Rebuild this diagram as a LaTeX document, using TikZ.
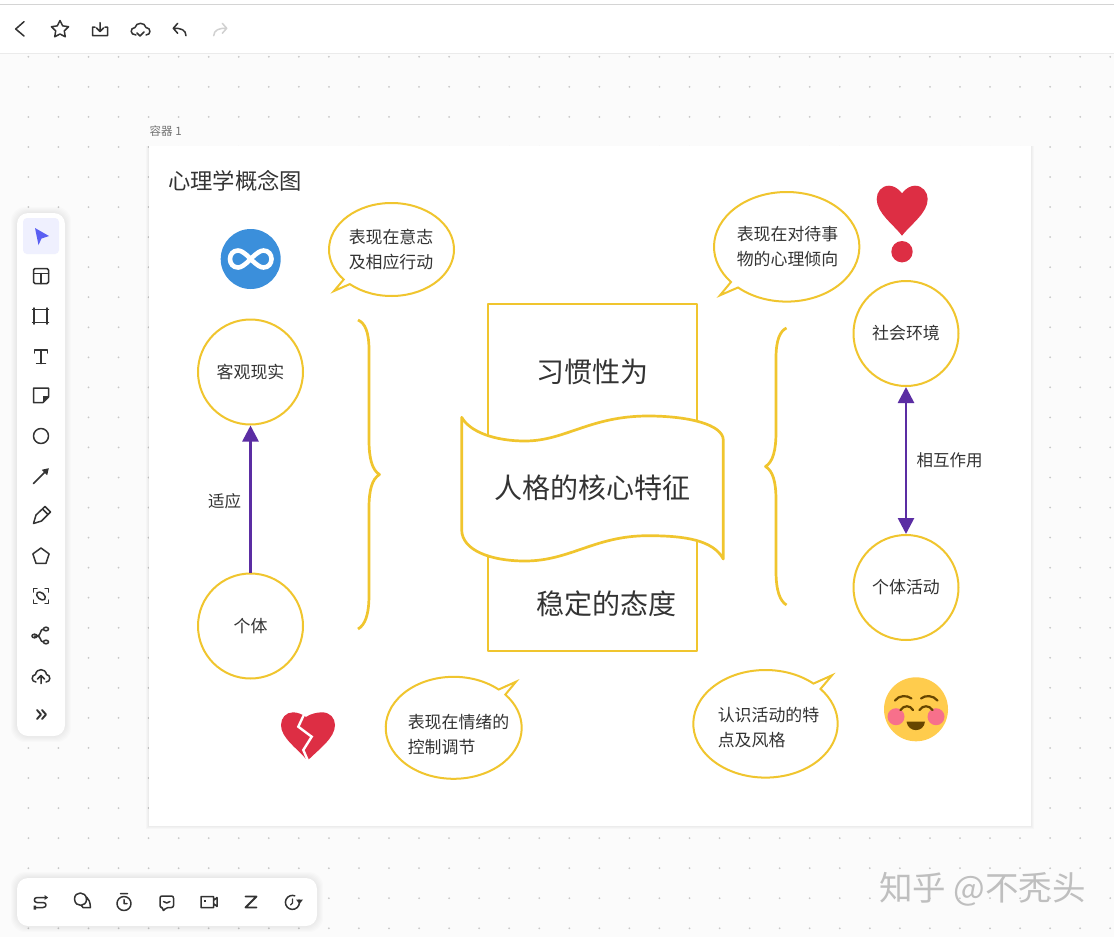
\documentclass[tikz,border=0pt]{standalone}
\usepackage{fontspec}
\setmainfont{Noto Sans CJK SC}
\usetikzlibrary{arrows.meta,shapes.geometric,shapes.callouts}
\definecolor{canvasbg}{HTML}{FBFBFB}
\definecolor{griddot}{HTML}{C8C8C8}
\definecolor{ink}{HTML}{333333}
\definecolor{gold}{HTML}{F0C52E}
\definecolor{violet}{HTML}{5B2DA3}
\definecolor{rubyred}{HTML}{DD2E44}
\definecolor{badgeblue}{HTML}{3B8FDB}
\definecolor{faceyellow}{HTML}{FFCC4D}
\definecolor{facepink}{HTML}{F7708B}
\definecolor{facebrown}{HTML}{664500}
\definecolor{pickblue}{HTML}{5A5FF2}
\definecolor{pickbg}{HTML}{EFF0FE}
\tikzset{
  conceptcircle/.style={circle,draw=gold,line width=2pt,fill=white,minimum size=105pt,inner sep=0pt,text=ink,font=\fontsize{16.9}{20}\selectfont},
  bubble/.style={ellipse callout,draw=gold,line width=2pt,fill=white,inner sep=0pt,callout pointer arc=8},
  bubbletext/.style={align=left,text=ink,font=\fontsize{16.9}{25}\selectfont},
  bigtext/.style={text=ink,font=\fontsize{28}{30}\selectfont},
  label/.style={text=ink,font=\fontsize{16.5}{20}\selectfont},
  linkarrow/.style={draw=violet,line width=2.7pt,-{Triangle[length=16pt,width=16pt]}},
  goldline/.style={draw=gold,line width=2.7pt,line join=round},
  icon/.style={draw=ink,line width=1.5pt,line cap=round,line join=round},
  panel/.style={fill=white,rounded corners=11pt},
  panelshade/.style={fill=black,opacity=.010,rounded corners=14pt}
}
\begin{document}
\begin{tikzpicture}[x=1pt,y=-1pt]
\useasboundingbox (0,0) rectangle (1114,937);
\fill[canvasbg] (0,0) rectangle (1114,937);
\foreach \x in {28.4,58.45,...,1112} % the grid of dots
\foreach \y in {56.8,86.85,...,936}
\fill[griddot] (\x,\y) circle (1);
% top bar
\fill[white] (0,0) rectangle (1114,53);
\draw[draw=black!8] (0,53.5) -- (1114,53.5);
\draw[draw=black!17,line width=1.2pt] (0,4.5) -- (1114,4.5);
\draw[icon] (24,21.7) -- (15.7,29) -- (24,36);
\node[icon,star,star points=5,star point ratio=2,minimum size=18pt,inner sep=0pt] (starbtn) at (60,29.5) {};
\draw[icon] (92.5,27) -- (92.5,35.5) -- (107.5,35.5) -- (107.5,27) -- (105,27) (95,27) -- (92.5,27) (100,22.5) -- (100,31) (96.5,28) -- (100,31.5) -- (103.5,28);
\draw[icon] (136,35) .. controls (130,35) and (129.5,28) .. (135,27.5) .. controls (136,22) and (145,22) .. (146,27.5) .. controls (151.5,28) and (151,35) .. (146,35) (137,33) -- (140,36) -- (144,32);
\draw[icon] (177.7,23.3) -- (173.3,28.3) -- (177.7,33.3) (173.5,28.3) .. controls (181,28) and (186,30) .. (186,35.7);
\draw[icon,draw=black!18] (222.3,23.3) -- (226.7,28.3) -- (222.3,33.3) (226.5,28.3) .. controls (219,28) and (214,30) .. (213.7,35.7);
% container
\foreach \s in {1,2,3}
\fill[black,opacity=.018] (149-\s,146) rectangle (1031+\s,826+\s);
\fill[white] (149,146) rectangle (1031,826);
\node[text=black!55,font=\fontsize{11.5}{13}\selectfont,anchor=west,inner sep=0pt] (frametag) at (149.5,131.5) {容器 1};
\node[text=ink,font=\fontsize{22.3}{26}\selectfont,anchor=west,inner sep=0pt] (maintitle) at (168,180.5) {心理学概念图};
% left tool panel
\foreach \s in {0,1,...,6}
\fill[panelshade] (17-\s,213-\s) rectangle (65+\s,736+\s);
\fill[panel] (17,213) rectangle (65,736);
\fill[pickbg,rounded corners=4pt] (23,218) rectangle (59,254);
\fill[pickblue] (35,228) -- (49,236) -- (41.5,238.5) -- (38.5,245) -- cycle;
\draw[icon,rounded corners=1.5pt] (33.5,268.5) rectangle (48.5,283.5);
\draw[icon] (33.5,273.5) -- (48.5,273.5) (41,273.5) -- (41,283.5);
\draw[icon] (32.5,309.5) -- (48.5,309.5) (32.5,322.5) -- (48.5,322.5) (34,308) -- (34,324) (47,308) -- (47,324);
\draw[icon] (34.5,353) -- (34.5,350) -- (47.5,350) -- (47.5,353) (41,350) -- (41,363.5) (36.5,363.5) -- (45.5,363.5);
\draw[icon] (33.5,388) -- (48.5,388) -- (48.5,397) -- (43,402.5) -- (33.5,402.5) -- cycle;
\fill[ink] (48.5,396) -- (43,402.5) -- (43,396) -- cycle;
\draw[icon] (41,436) circle (7.5);
\draw[icon] (33.5,483.5) -- (47,470);
\fill[ink] (48.8,468.2) -- (41.8,469.8) -- (47.2,475.2) -- cycle;
\draw[icon] (33.5,523.5) -- (36,515) -- (45,506.5) -- (50.5,512) -- (41.5,521) -- cycle (42.5,509) -- (48,514.5);
\node[icon,regular polygon,regular polygon sides=5,minimum size=17pt,inner sep=0pt] (polybtn) at (41,556.5) {};
\draw[icon] (33.5,592) -- (33.5,588.5) -- (37,588.5) (45,588.5) -- (48.5,588.5) -- (48.5,592) (33.5,600) -- (33.5,603.5) -- (37,603.5) (45,603.5) -- (48.5,603.5) -- (48.5,600);
\draw[icon,rotate around={-40:(41,596)}] (41,596) ellipse (5 and 3.2);
\draw[icon] (37,636) -- (34.5,636) (37,636) .. controls (41.5,636) and (39.5,629) .. (43.5,629) (37,636) .. controls (41.5,636) and (39.5,642) .. (43.5,642);
\draw[icon] (34.5,636) ellipse (2.6 and 1.8) (46,629) ellipse (2.6 and 1.8) (46,642) ellipse (2.6 and 1.8);
\draw[icon] (36,682) .. controls (31,682) and (31,675) .. (35.5,674.5) .. controls (36.5,668) and (45.5,668) .. (46.5,674.5) .. controls (51,675) and (51,682) .. (46,682) (41,683.5) -- (41,675.5) (37.5,679) -- (41,675.5) -- (44.5,679);
\draw[icon,line width=1.9pt] (37,710) -- (41,714.5) -- (37,719) (42,710) -- (46,714.5) -- (42,719);
% bottom tool panel
\foreach \s in {0,1,...,6}
\fill[panelshade] (17-\s,878-\s) rectangle (317+\s,926+\s);
\fill[panel] (17,878) rectangle (317,926);
\draw[icon] (47,897.5) -- (37,897.5) .. controls (33.5,897.5) and (33.5,902.5) .. (37,902.5) -- (43,902.5) .. controls (47,902.5) and (47,907.5) .. (43,907.5) -- (35,907.5);
\fill[ink] (44.5,895) -- (48,897.5) -- (44.5,900) -- cycle (33.7,905.5) rectangle (36,909.5);
\draw[icon] (74.5,899) .. controls (74.5,891) and (86,891) .. (86.5,899) .. controls (87,907) and (75,908) .. (74.5,899) (86.5,897) .. controls (89,899) and (90,902) .. (90.5,907.5) -- (83,907.5) -- (81,905);
\draw[icon] (124,903.5) circle (7) (120.5,893.5) -- (127.5,893.5) (124,899.5) -- (124,903.5) -- (127,903.5);
\draw[icon,rounded corners=2pt] (160,896) -- (173.5,896) -- (173.5,907.5) -- (166,907.5) -- (163,911.5) -- (163,907.5) -- (160,907.5) -- cycle;
\draw[icon] (163.5,901.5) .. controls (165,903.5) and (168.5,903.5) .. (170,901.5);
\draw[icon] (201,896.5) rectangle (213.5,907.5) (213.5,900.5) -- (217,897.5) -- (217,906.5) -- (213.5,903.5);
\fill[ink] (204,899.5) rectangle (206,901.5);
\draw[icon,line width=1.8pt] (245.5,896.5) -- (256.5,896.5) -- (245.5,907.5) -- (256.5,907.5);
\draw[icon] (299,900) arc (-20:290:7);
\fill[ink] (296,899.5) -- (303,899.5) -- (299.5,904) -- cycle;
\draw[icon,line width=1.2pt] (292.5,899) -- (292.5,903) -- (290.5,905);
% center box and ribbon
\draw[goldline] (488,304) rectangle (697,651);
\node[bigtext] (habit) at (592.5,372) {习惯性为};
\node[bigtext] (attitude) at (606.5,604) {稳定的态度};
\draw[goldline,fill=white] (461.7,417.3) .. controls (470,432) and (495,441) .. (525,441) .. controls (565,441) and (590,416) .. (648,416) .. controls (690,416) and (723,425) .. (723.3,440) -- (723.3,559) .. controls (713,540) and (685,535.7) .. (648,535.7) .. controls (595,535.7) and (570,561) .. (525,561) .. controls (490,561) and (462,550) .. (461.7,530) -- cycle;
\node[bigtext] (core) at (592,488) {人格的核心特征};
% braces
\draw[goldline] (358,320) .. controls (365,323) and (369,332) .. (369,350) -- (369,440) .. controls (369,458) and (372,470) .. (379.5,474.5) .. controls (372,479) and (369,490) .. (369,508) -- (369,595) .. controls (369,615) and (365,625) .. (358,629);
\draw[goldline] (786.5,328) .. controls (780,331) and (776,340) .. (776,358) -- (776,432) .. controls (776,450) and (773,462) .. (765.5,466.5) .. controls (773,471) and (776,482) .. (776,500) -- (776,571) .. controls (776,591) and (780,601) .. (786.5,605);
% circles and arrows
\foreach \name/\x/\y/\txt in {real/250.5/372/客观现实,indiv/250.5/626/个体,society/906/333.5/社会环境,activity/906/587.5/个体活动}
\node[conceptcircle] (\name) at (\x,\y) {\txt};
\draw[linkarrow] (indiv) -- (real);
\draw[linkarrow,{Triangle[length=16pt,width=16pt]}-{Triangle[length=16pt,width=16pt]}] (activity) -- (society);
\node[label] (adapt) at (224.5,501) {适应};
\node[label] (mutual) at (949.5,460) {相互作用};
% speech bubbles
\node[bubble,minimum width=125pt,minimum height=93pt,callout absolute pointer={(334,291)}] (will) at (391.5,249.5) {};
\node[bubbletext] (willtext) at (391,249.5) {表现在意志\\及相应行动};
\node[bubble,minimum width=145.4pt,minimum height=109.6pt,callout absolute pointer={(720,295.3)}] (things) at (786.7,246.8) {};
\node[bubbletext] (thingstext) at (787.5,246.5) {表现在对待事\\物的心理倾向};
\node[bubble,minimum width=136pt,minimum height=102pt,callout absolute pointer={(516,681.7)}] (mood) at (453.7,727.8) {};
\node[bubbletext] (moodtext) at (458.5,734.5) {表现在情绪的\\控制调节};
\node[bubble,minimum width=144.4pt,minimum height=107.6pt,callout absolute pointer={(832,675.3)}] (style) at (765.5,723.8) {};
\node[bubbletext] (styletext) at (768.5,727.5) {认识活动的特\\点及风格};
% infinity badge
\fill[badgeblue] (250.7,259) circle (30);
\draw[white,line width=4.6pt] (250.7,259) .. controls (245,253) and (241,250.5) .. (238,250.5) .. controls (233,250.5) and (230,254.5) .. (230,259) .. controls (230,263.5) and (233,267.5) .. (238,267.5) .. controls (241,267.5) and (245,265) .. (250.7,259) .. controls (256.5,253) and (260.5,250.5) .. (263.5,250.5) .. controls (268.5,250.5) and (271.5,254.5) .. (271.5,259) .. controls (271.5,263.5) and (268.5,267.5) .. (263.5,267.5) .. controls (260.5,267.5) and (256.5,265) .. (250.7,259) -- cycle;
% heart with dot
\fill[rubyred] (902,193.3) .. controls (898,188) and (893,185.7) .. (889,185.7) .. controls (881.5,185.7) and (876.7,192) .. (876.7,199) .. controls (876.7,213) and (893,224) .. (902,235.7) .. controls (911,224) and (927.7,213) .. (927.7,199) .. controls (927.7,192) and (922.5,185.7) .. (915,185.7) .. controls (911,185.7) and (906,188) .. (902,193.3) -- cycle;
\fill[rubyred] (902,251.7) circle (10.7);
% broken heart
\fill[rubyred] (306,717) .. controls (302,714) and (297,712.3) .. (293,712.3) .. controls (286,712.3) and (281,718) .. (281,725) .. controls (281,738) and (297,748) .. (307.5,760.7) .. controls (319,749) and (335,738) .. (335,725) .. controls (335,718) and (330,712.3) .. (322,712.3) .. controls (317,712.3) and (310,714) .. (306,717) -- cycle;
\draw[white,line width=2.4pt,line join=miter] (305.7,711) -- (298.3,726.7) -- (311.7,736.7) -- (303.3,750) -- (308.5,762);
% smiley
\fill[faceyellow] (916,709.3) circle (32);
\fill[facepink] (896,716.7) circle (8.5) (936,716.7) circle (8.5);
\draw[draw=facebrown,line width=2.2pt,line cap=round] (895,700.5) .. controls (899,695) and (907,695) .. (911.5,698.5) (921,698.5) .. controls (925,695) and (933,695) .. (937.5,700.5) (900.5,710) .. controls (904,705) and (910,705) .. (913,710) (919.5,710) .. controls (923,705) and (929,705) .. (932.5,710);
\fill[facebrown] (906.5,721.5) -- (925,721.5) .. controls (924,733) and (908,733) .. (906.5,721.5) -- cycle;
% watermark
\node[text=black!25,font=\fontsize{33.5}{36}\selectfont,anchor=west,inner sep=0pt] (mark) at (879,889) {知乎 @不秃头};
\end{tikzpicture}
\end{document}
